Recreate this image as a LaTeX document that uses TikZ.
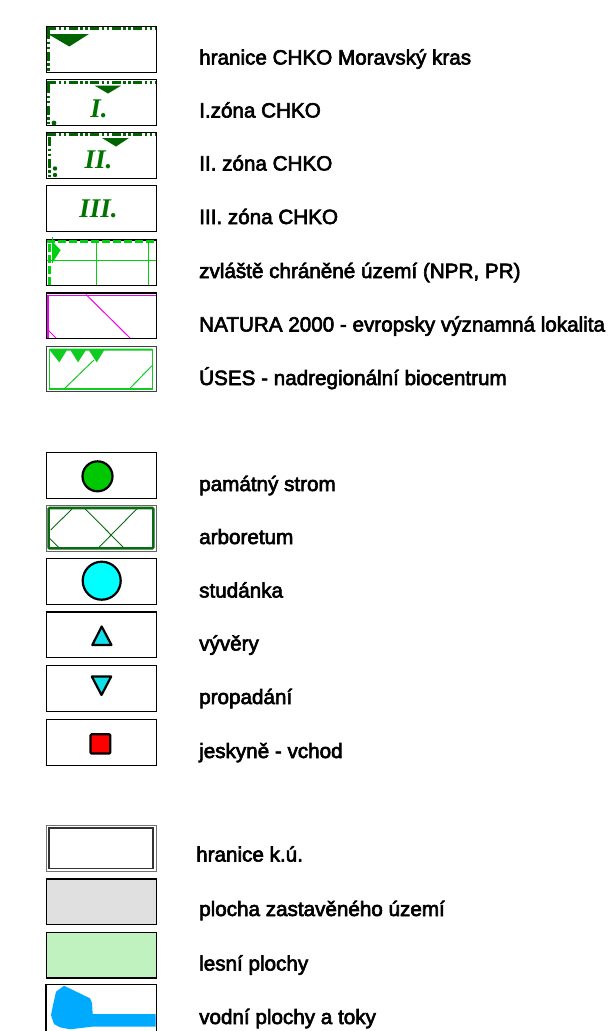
\documentclass[tikz,border=0pt]{standalone}
\usepackage{fontspec}
\setmainfont{Liberation Sans}[FakeBold=3]
\newfontfamily\zonefont{Liberation Serif Bold Italic}
\definecolor{dkgreen}{HTML}{006400}
\definecolor{ltgreen}{HTML}{00D010}
\definecolor{nat}{HTML}{F000F0}
\definecolor{treeg}{HTML}{00C800}
\definecolor{arb}{HTML}{0B6B14}
\definecolor{uses}{HTML}{10CC20}
\definecolor{wat}{HTML}{00AAFF}
\definecolor{spr}{HTML}{10E0E8}
\definecolor{aqua}{RGB}{0,255,255}
\definecolor{built}{HTML}{E0E0E0}
\definecolor{forest}{HTML}{C0F2C0}
\tikzset{
  swatch/.style={draw=black,line width=1.2pt,fill=white,minimum width=109.5pt,minimum height=45.6pt,inner sep=0pt,anchor=north west},
  legend/.style={anchor=base west,inner sep=0pt,font=\fontsize{20.65pt}{22pt}\selectfont,text=black},
  zone/.style={font=\zonefont\fontsize{27pt}{27pt}\selectfont,text=dkgreen!90!green,inner sep=0pt,anchor=center},
  chko/.style={draw=dkgreen,line width=3pt,dash pattern=on 9pt off 2.5pt on 2.5pt off 2.5pt on 2.5pt off 2.5pt},
  chkofill/.style={fill=dkgreen,draw=none},
  zvl/.style={draw=ltgreen,line width=3pt,dash pattern=on 8pt off 3pt},
  thinl/.style={draw=ltgreen,line width=1pt},
  natl/.style={draw=nat,line width=1pt},
  usesl/.style={draw=uses,line width=1pt},
  arbl/.style={draw=arb,line width=.9pt},
  markline/.style={draw=black,line width=2.2pt,line join=round}
}
\begin{document}
\begin{tikzpicture}[x=1pt,y=-1pt]
\useasboundingbox[fill=white] (0,0) rectangle (615,1031);
% row 1
\node[swatch] (b1) at (46,26) {};
\draw[chko] (47,28.3) -- (155.5,28.3);
\draw[chko] (48,30) -- (48,71);
\fill[chkofill] (48,34) -- (89,34) -- (69.3,46.5) -- cycle;
% row 2
\node[swatch] (b2) at (46,79) {};
\draw[chko] (47,82) -- (155.5,82);
\draw[chko] (48,84) -- (48,124);
\fill[chkofill] (94.7,85.7) -- (121,85.7) -- (108,93.5) -- cycle;
\fill[dkgreen] (54,123) circle (2.4);
\node[zone] (z1) at (99,108.5) {I.};
% row 3
\node[swatch] (b3) at (46,132) {};
\draw[chko] (47,134.3) -- (155.5,134.3);
\draw[chko] (49,137) -- (49,177);
\fill[chkofill] (102,138) -- (129,138) -- (116,146.5) -- cycle;
\fill[dkgreen] (55,168.5) circle (2.2);
\fill[dkgreen] (55,175) circle (2.2);
\node[zone] (z2) at (98.5,159.5) {II.};
% row 4
\node[swatch] (b4) at (46,185) {};
\node[zone] (z3) at (98.5,208.5) {III.};
% row 5
\node[swatch] (b5) at (46,239.3) {};
\draw[thinl] (47,260) -- (156,260);
\draw[thinl] (96,241) -- (96,285);
\draw[thinl] (148.7,241) -- (148.7,285);
\draw[zvl] (47,241.5) -- (155.5,241.5);
\draw[zvl] (49,244) -- (49,285);
\fill[ltgreen] (52.3,241.5) -- (60.7,250) -- (52.3,263) -- cycle;
\draw[thinl] (52.5,237) -- (52.5,263);
% row 6
\node[swatch] (b6) at (46,292.3) {};
\draw[natl,line width=1.4pt] (47.5,295.3) -- (155.5,295.3);
\draw[natl,line width=1.4pt] (48,295.3) -- (48,337.5);
\draw[natl] (86,294.5) -- (130,338);
\draw[natl] (47,329) -- (56,338);
% row 7
\node[swatch,draw=black!75,line width=1.4pt,minimum height=45pt] (b7) at (46,346) {};
\draw[usesl,line width=1.3pt] (49.3,349.5) rectangle (152.3,389);
\draw[usesl] (64,389) -- (94,360);
\draw[usesl] (129.3,389) -- (152,365.7);
\fill[uses] (49.5,348.5) -- (152,348.5) -- (152,350.5) -- (104,350.5) -- (96.7,362.3) -- (89,350.5)
  -- (85.7,350.5) -- (78,362.3) -- (70.7,350.5) -- (66.7,350.5) -- (59.3,362.3) -- (50,350.5) -- cycle;
% row 8
\node[swatch] (b8) at (46,452.2) {};
\draw[markline,fill=treeg] (97.5,476.3) circle (15);
% row 9
\node[swatch,draw=black!60,line width=1.4pt] (b9) at (46,505) {};
\draw[arbl] (72,509) -- (50.7,530);
\draw[arbl] (85.3,509) -- (124,548);
\draw[arbl] (136.7,509) -- (98.3,548);
\draw[arbl] (50,538.7) -- (59.3,548);
\draw[draw=arb,line width=2.6pt,rounded corners=1pt] (48.6,508) rectangle (153.3,548.3);
% row 10
\node[swatch] (b10) at (46,558.2) {};
\draw[markline,fill=aqua] (101.7,580.7) circle (19);
% row 11
\node[swatch] (b11) at (46,611.3) {};
\draw[markline,fill=spr] (101.7,626.5) -- (111.5,645) -- (92.3,645) -- cycle;
% row 12
\node[swatch] (b12) at (46,665) {};
\draw[markline,fill=spr] (91.8,676.5) -- (111.2,676.5) -- (101.5,695) -- cycle;
% row 13
\node[swatch] (b13) at (46,719) {};
\draw[markline,fill=red,rounded corners=1pt] (90.5,734.3) rectangle (110.3,753.5);
% row 14
\node[swatch,draw=black!55,line width=1.2pt] (b14) at (46,825) {};
\draw[draw=black!80,line width=1.1pt] (49,828) rectangle (153,868.5);
% row 15
\node[swatch,fill=built] (b15) at (46,878.3) {};
% row 16
\node[swatch,fill=forest] (b16) at (46,931.8) {};
% row 17
\node[swatch,draw=none] (b17) at (46,984.9) {};
\fill[wat] (64,985.7) -- (90,998.3) -- (92,1003) -- (92.7,1014) -- (155.5,1014) -- (155.5,1026.7) -- (91.7,1026.7) -- (70,1029.3)
  -- (60,1027.3) -- (54,1024) -- (51,1015) -- (52.7,1006.7) -- (56,991.7) -- cycle;
\draw[black,line width=1.1pt] (b17.north west) rectangle (b17.south east);
% labels
\node[legend] (t1) at (199,64.5) {hranice CHKO Moravský kras};
\node[legend] (t2) at (199,117.5) {I.zóna CHKO};
\node[legend] (t3) at (199,170.5) {II. zóna CHKO};
\node[legend] (t4) at (199,224) {III. zóna CHKO};
\node[legend] (t5) at (199,278) {zvláště chráněné území (NPR, PR)};
\node[legend] (t6) at (199,331.5) {NATURA 2000 - evropsky významná lokalita};
\node[legend] (t7) at (199,385) {ÚSES - nadregionální biocentrum};
\node[legend] (t8) at (199,491) {památný strom};
\node[legend] (t9) at (199,544) {arboretum};
\node[legend] (t10) at (199,597.5) {studánka};
\node[legend] (t11) at (199,650.5) {vývěry};
\node[legend] (t12) at (199,704) {propadání};
\node[legend] (t13) at (199,758) {jeskyně - vchod};
\node[legend] (t14) at (196,861.5) {hranice k.ú.};
\node[legend] (t15) at (199,916) {plocha zastavěného území};
\node[legend] (t16) at (199,970.5) {lesní plochy};
\node[legend] (t17) at (199,1024) {vodní plochy a toky};
\end{tikzpicture}
\end{document}
